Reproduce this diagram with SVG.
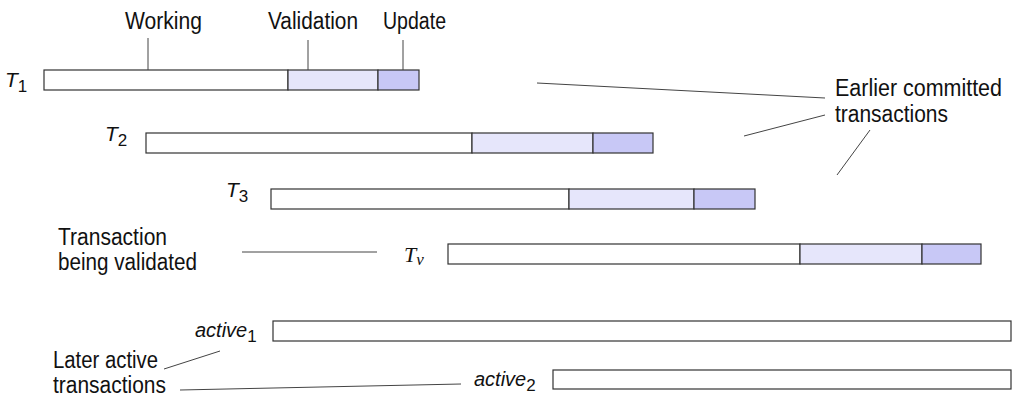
<svg xmlns="http://www.w3.org/2000/svg" width="1013" height="396" viewBox="0 0 1013 396">
<style>
.lbl{font-family:"Liberation Sans",Arial,sans-serif;font-size:23px;fill:#111}
.tl{font-family:"Liberation Sans",Arial,sans-serif;font-style:italic;font-size:21px;fill:#111}
.act{font-family:"Liberation Sans",Arial,sans-serif;font-style:italic;font-size:20px;fill:#111}
.sub{font-style:normal;font-size:17px}
.tv{font-family:"Liberation Serif",serif;font-style:italic;font-size:22px;fill:#111}
.w{fill:#fff;stroke:#333;stroke-width:1.2}
.v{fill:#e6e6fb;stroke:#333;stroke-width:1.2}
.u{fill:#c8c8f6;stroke:#333;stroke-width:1.2}
.c{stroke:#444;stroke-width:1;fill:none}
</style>
<rect width="1013" height="396" fill="#fff"/>
<g id="header">
<text class="lbl" x="125" y="29" textLength="77" lengthAdjust="spacingAndGlyphs">Working</text>
<text class="lbl" x="268" y="29" textLength="90" lengthAdjust="spacingAndGlyphs">Validation</text>
<text class="lbl" x="383" y="29" textLength="63" lengthAdjust="spacingAndGlyphs">Update</text>
</g>
<g id="T1">
<text class="tl" x="5" y="87">T<tspan class="sub" dy="5">1</tspan></text>
<rect class="w" x="44" y="70" width="244" height="20"/>
<rect class="v" x="288" y="70" width="90" height="20"/>
<rect class="u" x="378" y="70" width="41" height="20"/>
</g>
<g id="T2">
<text class="tl" x="105" y="141">T<tspan class="sub" dy="5">2</tspan></text>
<rect class="w" x="146" y="133" width="326" height="20"/>
<rect class="v" x="472" y="133" width="121" height="20"/>
<rect class="u" x="593" y="133" width="60" height="20"/>
</g>
<g id="T3">
<text class="tl" x="226" y="197">T<tspan class="sub" dy="5">3</tspan></text>
<rect class="w" x="271" y="189" width="298" height="20"/>
<rect class="v" x="569" y="189" width="125" height="20"/>
<rect class="u" x="694" y="189" width="61" height="20"/>
</g>
<g id="Tv">
<text class="tv" x="404" y="262">T<tspan font-size="17" dy="3">v</tspan></text>
<rect class="w" x="448" y="244" width="352" height="20"/>
<rect class="v" x="800" y="244" width="122" height="20"/>
<rect class="u" x="922" y="244" width="59" height="20"/>
</g>
<g id="active1">
<text class="act" x="195" y="337">active<tspan class="sub" dy="5">1</tspan></text>
<rect class="w" x="273" y="321" width="738" height="20"/>
</g>
<g id="active2">
<text class="act" x="474" y="386">active<tspan class="sub" dy="5">2</tspan></text>
<rect class="w" x="553" y="370" width="458" height="19"/>
</g>
<g id="earlier">
<text class="lbl" x="835" y="96" textLength="167" lengthAdjust="spacingAndGlyphs">Earlier committed</text>
<text class="lbl" x="835" y="122" textLength="113" lengthAdjust="spacingAndGlyphs">transactions</text>
</g>
<g id="validated">
<text class="lbl" x="58" y="245" textLength="109" lengthAdjust="spacingAndGlyphs">Transaction</text>
<text class="lbl" x="58" y="270" textLength="139" lengthAdjust="spacingAndGlyphs">being validated</text>
</g>
<g id="later">
<text class="lbl" x="53" y="368" textLength="105" lengthAdjust="spacingAndGlyphs">Later active</text>
<text class="lbl" x="53" y="393" textLength="113" lengthAdjust="spacingAndGlyphs">transactions</text>
</g>
<g id="connectors">
<line class="c" x1="148" y1="38" x2="148" y2="70"/>
<line class="c" x1="308" y1="40" x2="308" y2="70"/>
<line class="c" x1="403" y1="40" x2="403" y2="70"/>
<line class="c" x1="537" y1="83" x2="825" y2="98"/>
<line class="c" x1="744" y1="136" x2="825" y2="115"/>
<line class="c" x1="837" y1="175" x2="870" y2="130"/>
<line class="c" x1="242" y1="252" x2="377" y2="252"/>
<line class="c" x1="164" y1="369" x2="220" y2="351"/>
<line class="c" x1="180" y1="390" x2="461" y2="384"/>
</g>
</svg>
